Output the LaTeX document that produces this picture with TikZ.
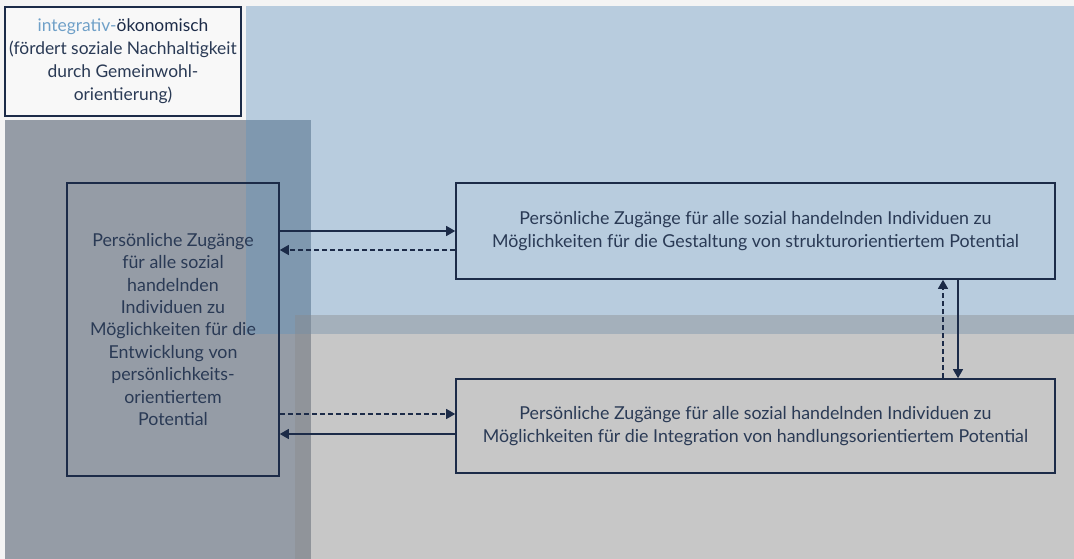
\documentclass[tikz,border=0pt]{standalone}
\usepackage{fontspec}
\setmainfont{Lato}
\usetikzlibrary{arrows.meta}
\definecolor{navy}{RGB}{28,43,72}
\definecolor{txtcol}{RGB}{42,58,85}
\definecolor{pagebg}{RGB}{244,244,244}
\definecolor{leftfill}{RGB}{149,156,166}
\definecolor{bluefill}{RGB}{96,146,189}
\definecolor{grayfill}{RGB}{137,137,137}
\definecolor{titleblue}{RGB}{111,160,200}

\tikzset{
  box/.style={draw=navy, line width=1.6pt, text=txtcol, align=center, inner sep=0pt,
    font=\fontsize{17.8}{22.4}\selectfont},
  flow/.style={draw=navy, line width=1.2pt, -{Triangle[length=9pt,width=10pt]}},
  flowdash/.style={flow, dash pattern=on 5pt off 3pt}
}

\begin{document}
\begin{tikzpicture}[x=1pt,y=1pt,yscale=-1,xscale=1]
        \useasboundingbox (0,0) rectangle (1074,559);

        % background areas
        \fill [pagebg] (0,0) rectangle (1074,559);
        \fill [leftfill] (5,120) rectangle (311,559);
        \fill [bluefill, fill opacity=0.4] (246,6) rectangle (1074,334);
        \fill [grayfill, fill opacity=0.41] (295,315) rectangle (1074,559);

        % Text Node
        \node [box, fill=pagebg!60!white, minimum width=236, minimum height=109,
          font=\fontsize{17.4}{23}\selectfont] (title) at (123,61.5)
          {\textcolor{titleblue}{integrativ-}\textcolor{navy}{ökonomisch}\\(fördert soziale Nachhaltigkeit\\durch Gemeinwohl-\\orientierung)};
        % Text Node
        \node [box, minimum width=212, minimum height=293] (pers) at (173,329.5)
          {Persönliche Zugänge\\für alle sozial\\handelnden\\Individuen zu\\Möglichkeiten für die\\Entwicklung von\\persönlichkeits-\\orientiertem\\Potential};
        % Text Node
        \node [box, minimum width=599, minimum height=96] (struk) at (755.5,231)
          {Persönliche Zugänge für alle sozial handelnden Individuen zu\\Möglichkeiten für die Gestaltung von strukturorientiertem Potential};
        % Text Node
        \node [box, minimum width=599, minimum height=94] (hand) at (755.5,426)
          {Persönliche Zugänge für alle sozial handelnden Individuen zu\\Möglichkeiten für die Integration von handlungsorientiertem Potential};

        % arrows left <-> upper
        \coordinate (s1) at ([yshift=19pt]struk.west);
        \draw [flow] (pers.east |- struk.west) -- (struk.west);
        \draw [flowdash] (s1) -- (pers.east |- s1);

        % arrows left <-> lower
        \coordinate (h1) at ([yshift=-12pt]hand.west);
        \coordinate (h2) at ([yshift=8pt]hand.west);
        \draw [flowdash] (pers.east |- h1) -- (h1);
        \draw [flow] (h2) -- (pers.east |- h2);

        % arrows upper <-> lower
        \draw [flowdash] ([xshift=187.5pt]hand.north) -- ([xshift=187.5pt]struk.south);
        \draw [flow] ([xshift=202.5pt]struk.south) -- ([xshift=202.5pt]hand.north);

\end{tikzpicture}
\end{document}
